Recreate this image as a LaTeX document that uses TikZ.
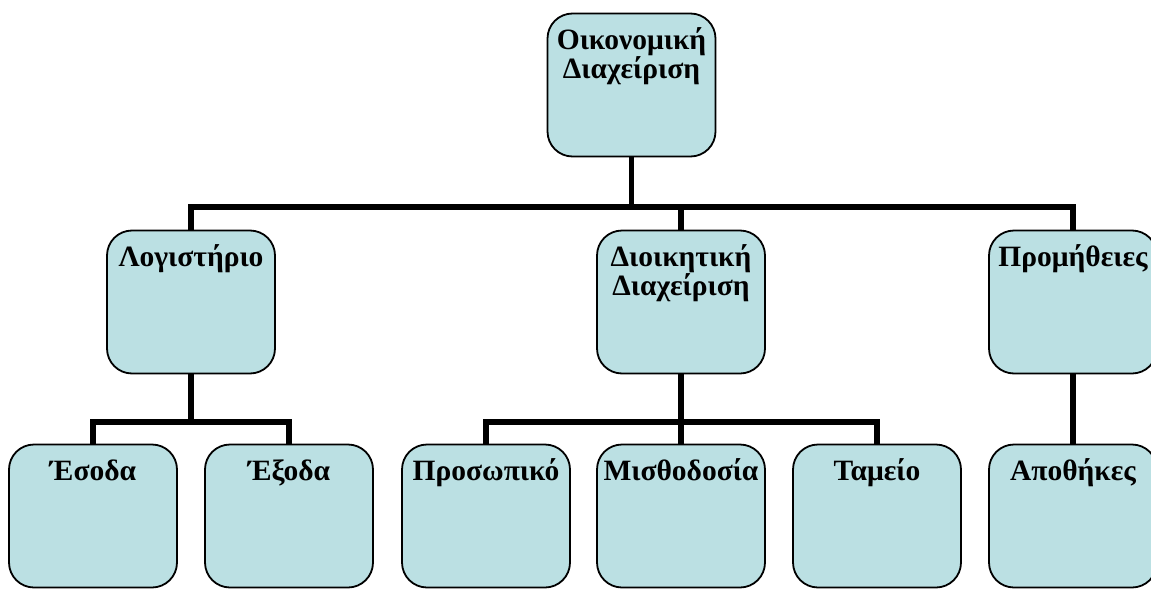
\documentclass[tikz,border=0pt]{standalone}
\usepackage{fontspec}
\setmainfont{Liberation Serif}
\definecolor{boxfill}{RGB}{187,224,227}
\newcommand{\boxtext}[2][143pt]{\parbox[c][#1][t]{168pt}{\centering\fontsize{29.5}{29}\selectfont\bfseries\rule{0pt}{35.5pt}#2}}
\begin{document}
\begin{tikzpicture}[x=1pt,y=-1pt,
  orgbox/.style={draw=black, line width=1.8pt, fill=boxfill, rounded corners=25pt, inner sep=0pt, outer sep=0pt},
  conn/.style={draw=black, line width=5.5pt, line join=miter}]
\useasboundingbox (0,0) rectangle (1151,589);
% level 1
\node[orgbox] (top) at (631.5,85) {\boxtext{Οικονομική\\Διαχείριση}};
% level 2
\node[orgbox] (log) at (191,302) {\boxtext{Λογιστήριο}};
\node[orgbox] (dio) at (681,302) {\boxtext{Διοικητική\\Διαχείριση}};
\node[orgbox] (pro) at (1073,302) {\boxtext{Προμήθειες}};
% level 3
\node[orgbox] (eso) at (93,516) {\boxtext{Έσοδα}};
\node[orgbox] (exo) at (289,516) {\boxtext{Έξοδα}};
\node[orgbox] (prs) at (486,516) {\boxtext{Προσωπικό}};
\node[orgbox] (mis) at (681,516) {\boxtext{Μισθοδοσία}};
\node[orgbox] (tam) at (877,516) {\boxtext{Ταμείο}};
\node[orgbox] (apo) at (1073,516) {\boxtext{Αποθήκες}};
% bus coordinates
\coordinate (bus1) at (0,207);
\coordinate (bus2) at (0,422);
% connectors level 1 -> 2
\draw[conn] (top.south) -- (top.south |- bus1);
\draw[conn] (log.north) -- (log.north |- bus1) -- (pro.north |- bus1) -- (pro.north);
\draw[conn] (dio.north) -- (dio.north |- bus1);
% connectors level 2 -> 3
\draw[conn] (log.south) -- (log.south |- bus2);
\draw[conn] (eso.north) -- (eso.north |- bus2) -- (exo.north |- bus2) -- (exo.north);
\draw[conn] (dio.south) -- (dio.south |- bus2);
\draw[conn] (prs.north) -- (prs.north |- bus2) -- (tam.north |- bus2) -- (tam.north);
\draw[conn] (mis.north) -- (mis.north |- bus2);
\draw[conn] (pro.south) -- (apo.north);
\end{tikzpicture}
\end{document}
